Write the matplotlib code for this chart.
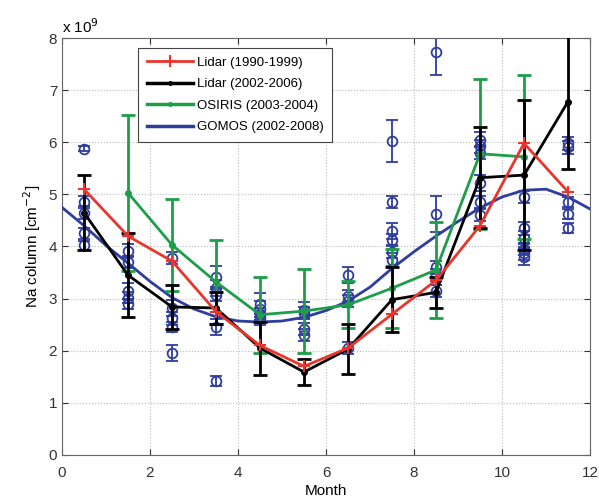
import numpy as np
import matplotlib
matplotlib.use("Agg")
import matplotlib.pyplot as plt
from matplotlib.lines import Line2D

plt.rcParams["font.family"] = ["Liberation Sans", "DejaVu Sans"]

# ── Data (units of 1e9 cm^-2) ───────────────────────────
months = [0.5, 1.5, 2.5, 3.5, 4.5, 5.5, 6.5, 7.5, 8.5, 9.5, 10.5, 11.5]

lidar_old = [5.1, 4.2, 3.72, 2.75, 2.1, 1.7, 2.05, 2.7, 3.35, 4.4, 5.98, 5.05]

lidar_new     = [4.65, 3.45, 2.84, 2.82, 2.05, 1.59, 2.03, 2.98, 3.12, 5.32, 5.37, 6.78]
lidar_new_err = [0.72, 0.8, 0.42, 0.3, 0.51, 0.25, 0.48, 0.63, 0.3, 0.97, 1.44, 1.29]

osiris_months = [1.5, 2.5, 3.5, 4.5, 5.5, 6.5, 7.5, 8.5, 9.5, 10.5]
osiris        = [5.03, 4.03, 3.32, 2.69, 2.76, 2.88, 3.2, 3.55, 5.78, 5.72]
osiris_err    = [1.5, 0.88, 0.8, 0.73, 0.8, 0.45, 0.76, 0.92, 1.44, 1.57]

gomos_fit_x = [0, 0.5, 1, 1.5, 2, 2.5, 3, 3.5, 4, 4.5, 5, 5.5, 6, 6.5, 7,
               7.5, 8, 8.5, 9, 9.5, 10, 10.5, 11, 11.5, 12]
gomos_fit_y = [4.75, 4.4, 4.02, 3.68, 3.33, 3.02, 2.8, 2.65, 2.57, 2.55, 2.57,
               2.64, 2.77, 2.95, 3.22, 3.58, 3.9, 4.2, 4.48, 4.74, 4.95, 5.08,
               5.1, 4.95, 4.72]

# individual GOMOS years, per month
gomos_pts = {
    0.5:  [5.88, 4.85, 4.65, 4.25, 4.02],
    1.5:  [3.92, 3.7, 3.15, 3.02, 2.9],
    2.5:  [3.78, 2.82, 2.62, 2.45, 1.95],
    3.5:  [3.42, 3.2, 3.07, 2.45, 1.42],
    4.5:  [2.9, 2.8, 2.7, 2.62],
    5.5:  [2.78, 2.72, 2.42, 2.3],
    6.5:  [3.45, 3.05, 2.95, 2.05],
    7.5:  [6.02, 4.85, 4.3, 4.12, 3.9, 3.75],
    8.5:  [7.74, 4.62, 3.6, 3.45, 3.15],
    9.5:  [6.05, 5.92, 5.8, 5.22, 4.85, 4.6],
    10.5: [4.95, 4.35, 4.17, 3.95, 3.87, 3.8],
    11.5: [5.98, 5.9, 4.85, 4.62, 4.35],
}
gomos_errs = {
    0.5:  [0.05, 0.12, 0.12, 0.1, 0.08],
    1.5:  [0.12, 0.12, 0.15, 0.1, 0.1],
    2.5:  [0.12, 0.15, 0.12, 0.1, 0.15],
    3.5:  [0.2, 0.15, 0.12, 0.15, 0.1],
    4.5:  [0.2, 0.15, 0.12, 0.12],
    5.5:  [0.15, 0.12, 0.12, 0.12],
    6.5:  [0.15, 0.12, 0.12, 0.12],
    7.5:  [0.4, 0.12, 0.15, 0.12, 0.12, 0.12],
    8.5:  [0.45, 0.35, 0.12, 0.12, 0.12],
    9.5:  [0.15, 0.12, 0.12, 0.15, 0.12, 0.12],
    10.5: [0.12, 0.12, 0.12, 0.12, 0.12, 0.15],
    11.5: [0.12, 0.12, 0.1, 0.1, 0.1],
}

RED = "#e8362d"
GREEN = "#1e9e48"
BLUE = "#2e3d9e"

fig = plt.figure(figsize=(5.99, 5.01), dpi=100)
ax = fig.add_axes([0.1035, 0.092, 0.8815, 0.832])

# GOMOS individual years
for m, vals in gomos_pts.items():
    ax.errorbar([m] * len(vals), vals, yerr=gomos_errs[m], fmt="o", color=BLUE,
                mfc="none", mec=BLUE, ms=7, mew=1.3, elinewidth=1.3,
                capsize=4, capthick=1.3, zorder=2)

# GOMOS fit
ax.plot(gomos_fit_x, gomos_fit_y, color=BLUE, lw=2, zorder=3)

# OSIRIS
ax.errorbar(osiris_months, osiris, yerr=osiris_err, color=GREEN, lw=2,
            marker=".", ms=8, elinewidth=2, capsize=5, capthick=2, zorder=4)

# Lidar 2002-2006
ax.errorbar(months, lidar_new, yerr=lidar_new_err, color="black", lw=2,
            marker=".", ms=8, elinewidth=2, capsize=5, capthick=2, zorder=5)

# Lidar 1990-1999
ax.plot(months, lidar_old, color=RED, lw=2, marker="+", ms=8, mew=1.5,
        zorder=6)

ax.set_xlim(0, 12)
ax.set_ylim(0, 8)
ax.set_xticks(np.arange(0, 13, 2))
ax.set_yticks(np.arange(0, 9, 1))
ax.grid(True, linestyle=":", color="#bbbbbb", lw=0.8)
ax.tick_params(direction="in", length=4, labelsize=11, colors="#333333",
               top=True, right=True)
ax.tick_params(axis="x", pad=8)
for s in ax.spines.values():
    s.set_color("#666666")

ax.set_xlabel("Month", fontsize=11, labelpad=3)
ax.set_ylabel("Na column [cm$^{-2}$]", fontsize=11, labelpad=4)
ax.text(0.0, 1.005, "x 10$^9$", transform=ax.transAxes, fontsize=11,
        ha="left", va="bottom")

legend_handles = [
    Line2D([], [], color=RED, lw=2, marker="+", ms=8, mew=1.5),
    Line2D([], [], color="black", lw=2.5, marker=".", ms=5),
    Line2D([], [], color=GREEN, lw=2.5, marker=".", ms=5),
    Line2D([], [], color=BLUE, lw=2.5),
]
legend_labels = ["Lidar (1990-1999)", "Lidar (2002-2006)",
                 "OSIRIS (2003-2004)", "GOMOS (2002-2008)"]
leg = ax.legend(legend_handles, legend_labels,
                loc="upper left", bbox_to_anchor=(0.144, 0.976),
                borderaxespad=0, fontsize=9.5, handlelength=3.5,
                handletextpad=0.3, fancybox=False, framealpha=1,
                edgecolor="#444444", labelspacing=0.7, borderpad=0.65)
leg.get_frame().set_linewidth(0.8)

fig.savefig("out.png", dpi=100)
